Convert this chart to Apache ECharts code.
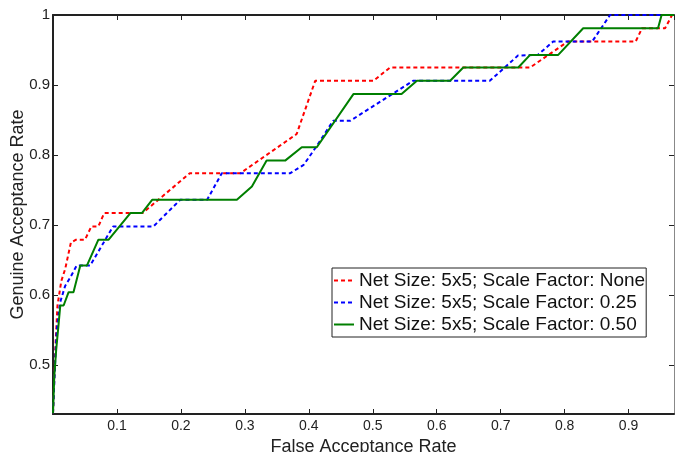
<!DOCTYPE html>
<html>
<head>
<meta charset="utf-8">
<script src="https://cdn.jsdelivr.net/npm/echarts@6.0.0/dist/echarts.min.js"></script>
<style>
  html, body { margin: 0; padding: 0; background: #fff; }
  #chart { width: 675px; height: 452px; }
</style>
</head>
<body>
<div id="chart"></div>
<script>
// legend names
const names = [
  'Net Size: 5x5; Scale Factor: None',
  'Net Size: 5x5; Scale Factor: 0.25',
  'Net Size: 5x5; Scale Factor: 0.50'
]

// false acceptance rate / genuine acceptance rate
const farNone = [0, 0.004, 0.007, 0.013, 0.019, 0.028, 0.036, 0.050, 0.060, 0.071, 0.080, 0.140, 0.214, 0.293, 0.381, 0.410, 0.501, 0.527, 0.746, 0.805, 0.911, 0.921, 0.957, 0.968]
const garNone = [0.431, 0.53, 0.585, 0.62, 0.637, 0.675, 0.679, 0.679, 0.698, 0.698, 0.717, 0.717, 0.774, 0.774, 0.830, 0.906, 0.906, 0.925, 0.925, 0.962, 0.962, 0.981, 0.981, 1.0]

const far025 = [0, 0.004, 0.006, 0.011, 0.019, 0.027, 0.037, 0.058, 0.094, 0.157, 0.199, 0.241, 0.264, 0.371, 0.392, 0.4125, 0.438, 0.465, 0.563, 0.683, 0.727, 0.758, 0.782, 0.843, 0.871, 0.971]
const gar025 = [0.431, 0.518, 0.551, 0.589, 0.613, 0.625, 0.642, 0.642, 0.698, 0.698, 0.736, 0.736, 0.774, 0.774, 0.786, 0.813, 0.849, 0.849, 0.906, 0.906, 0.942, 0.943, 0.962, 0.962, 1.0, 1.0]

const far050 = [0, 0.002, 0.005, 0.009, 0.0114, 0.0166, 0.0244, 0.032, 0.0427, 0.053, 0.071, 0.087, 0.121, 0.139, 0.155, 0.2875, 0.311, 0.334, 0.363, 0.389, 0.4125, 0.4697, 0.545, 0.569, 0.621, 0.6415, 0.7275, 0.746, 0.790, 0.829, 0.946, 0.9516, 0.971]
const gar050 = [0.431, 0.484, 0.522, 0.561, 0.585, 0.585, 0.604, 0.604, 0.642, 0.642, 0.679, 0.679, 0.717, 0.717, 0.736, 0.736, 0.755, 0.792, 0.792, 0.811, 0.811, 0.887, 0.887, 0.906, 0.906, 0.925, 0.925, 0.943, 0.943, 0.981, 0.981, 1.0, 1.0]

const xMin = 0, xMax = 0.971
const yMin = 0.43, yMax = 1

function zip (xs, ys) {
  return xs.map((x, i) => [x, ys[i]])
}

const font = "'Liberation Sans', Arial, sans-serif"

function axisBase () {
  return {
    type: 'value',
    splitLine: { show: false },
    axisTick: { show: true, inside: true, length: 5, lineStyle: { color: '#222', width: 1 } },
    axisLine: { show: true, onZero: false, lineStyle: { color: '#222', width: 2 } }
  }
}

let chart = echarts.init(document.getElementById('chart'))

let option = {
  animation: false,
  backgroundColor: '#fff',
  textStyle: { fontFamily: font },
  grid: { left: 53, top: 15, right: 1, bottom: 38, containLabel: false, outerBoundsMode: 'none' },
  xAxis: [
    Object.assign(axisBase(), {
      min: xMin, max: xMax, interval: 0.1,
      position: 'bottom',
      name: 'False Acceptance Rate',
      nameLocation: 'middle',
      nameGap: 24,
      nameMoveOverlap: false,
      nameTextStyle: { fontSize: 18, color: '#222', fontFamily: font },
      axisLabel: {
        fontSize: 14, color: '#222', margin: 5, fontFamily: font,
        showMinLabel: false, showMaxLabel: false,
        formatter: v => v.toFixed(1)
      }
    }),
    Object.assign(axisBase(), {
      min: xMin, max: xMax, interval: 0.1,
      position: 'top',
      axisLabel: { show: false }
    })
  ],
  yAxis: [
    Object.assign(axisBase(), {
      min: yMin, max: yMax, splitNumber: 5,
      position: 'left',
      name: 'Genuine Acceptance Rate',
      nameLocation: 'middle',
      nameGap: 26,
      nameMoveOverlap: false,
      nameTextStyle: { fontSize: 18, color: '#222', fontFamily: font },
      axisLabel: {
        fontSize: 15, color: '#222', margin: 3, fontFamily: font,
        showMinLabel: false,
        formatter: v => (v === 1 ? '1' : v.toFixed(1))
      }
    }),
    Object.assign(axisBase(), {
      min: yMin, max: yMax, splitNumber: 5,
      position: 'right',
      axisLine: { show: true, onZero: false, lineStyle: { color: '#888', width: 1 } },
      axisLabel: { show: false }
    })
  ],
  legend: {
    orient: 'vertical',
    left: 332,
    top: 268,
    backgroundColor: '#fff',
    borderColor: '#222',
    borderWidth: 1,
    padding: [3, 1, 3, 1],
    itemGap: 3,
    itemWidth: 20,
    itemHeight: 14,
    itemStyle: { opacity: 0 },
    textStyle: { fontSize: 19, color: '#111', fontFamily: font },
    data: names
  },
  series: [
    {
      name: names[0], type: 'line', symbol: 'none', z: 2,
      data: zip(farNone, garNone),
      lineStyle: { color: '#ff0000', width: 2, type: [4, 3] },
      itemStyle: { color: '#ff0000' }
    },
    {
      name: names[1], type: 'line', symbol: 'none', z: 3,
      data: zip(far025, gar025),
      lineStyle: { color: '#0000ff', width: 2, type: [4, 3] },
      itemStyle: { color: '#0000ff' }
    },
    {
      name: names[2], type: 'line', symbol: 'none', z: 4,
      data: zip(far050, gar050),
      lineStyle: { color: '#007f00', width: 2, type: 'solid' },
      itemStyle: { color: '#007f00' }
    }
  ]
}

chart.setOption(option)
</script>
</body>
</html>
